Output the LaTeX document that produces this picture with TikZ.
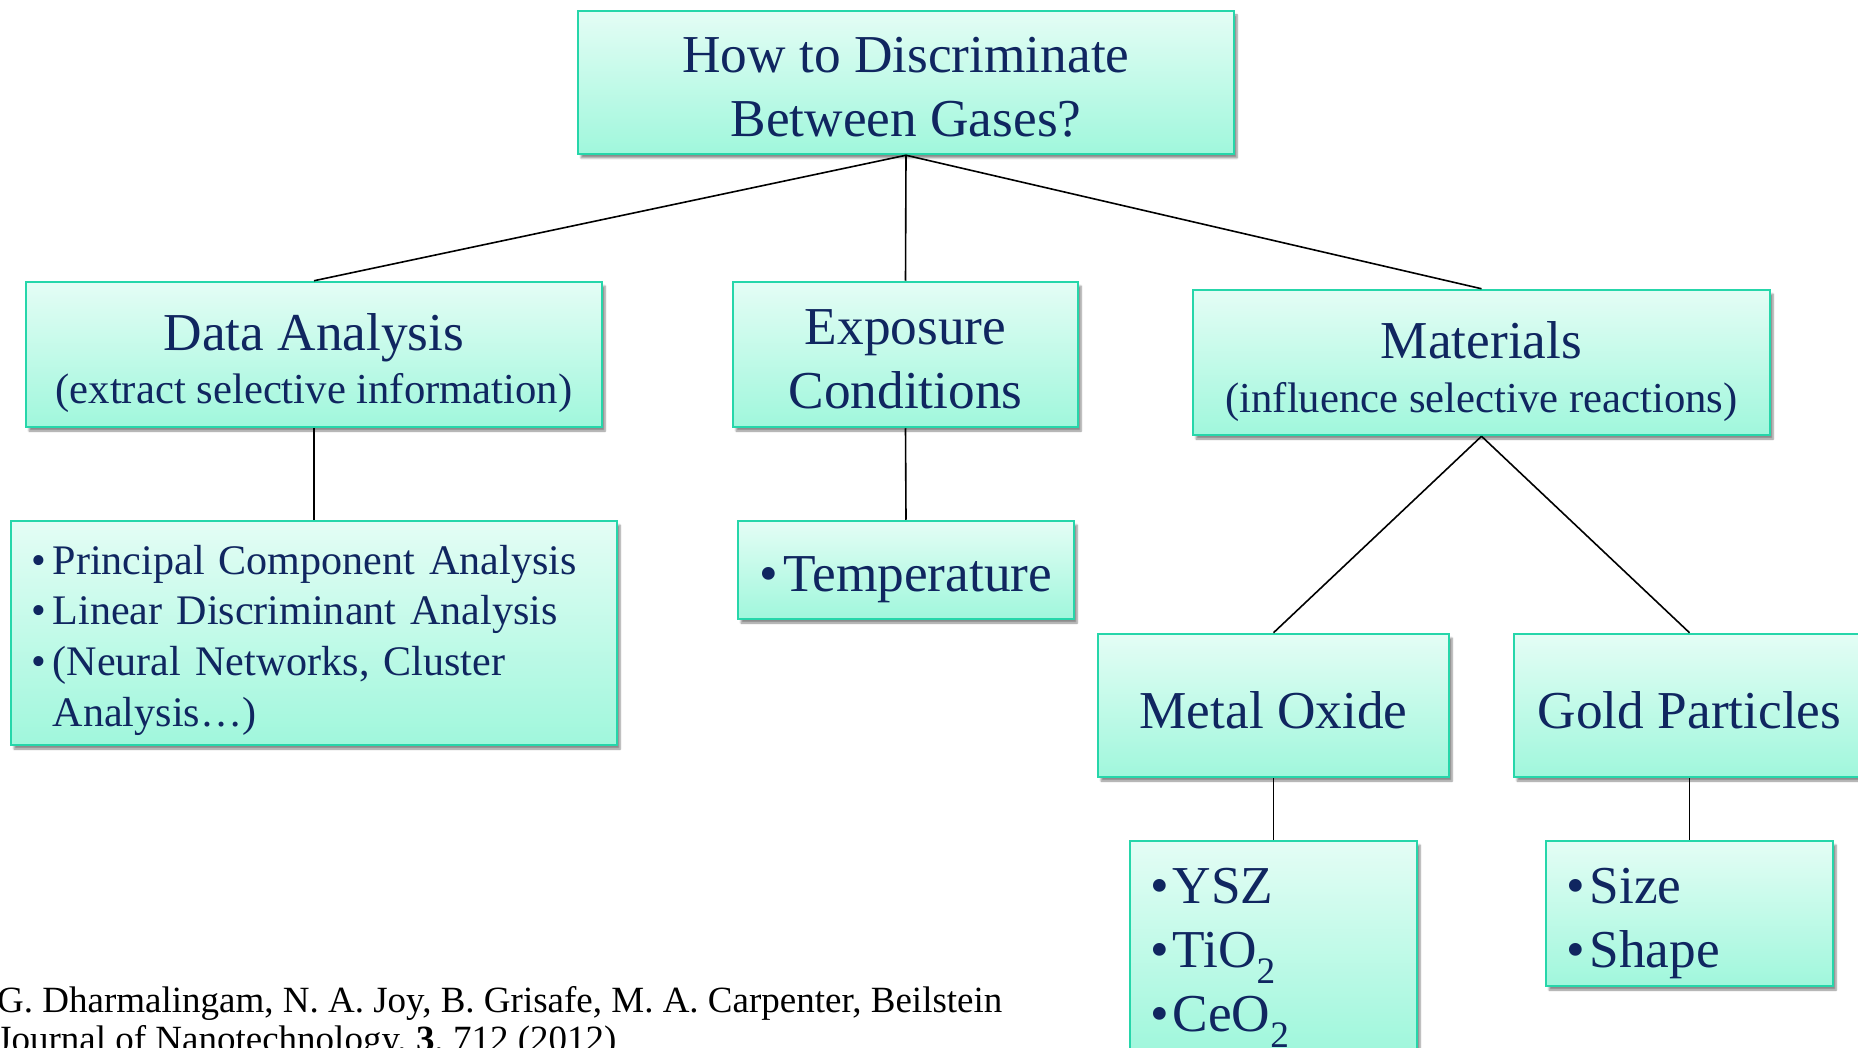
\documentclass[tikz,border=0pt]{standalone}
\usepackage{fontspec}
\setmainfont{Liberation Serif}
\usetikzlibrary{shadows.blur}
\definecolor{navy}{RGB}{16,38,96}
\definecolor{boxline}{RGB}{38,214,170}
\definecolor{boxtop}{RGB}{228,253,245}
\definecolor{boxbot}{RGB}{160,247,220}
\newcommand{\fbig}{\fontsize{53.3}{64}\selectfont}
\newcommand{\fmed}{\fontsize{42.7}{50.6}\selectfont}
\newcommand{\flist}{\fontsize{42.1}{50.6}\selectfont}
\newcommand{\fcite}{\fontsize{37}{42.5}\selectfont}
\newcommand{\lowered}[2]{\raisebox{-#1}[\height][\depth]{#2}}
\begin{document}
\begin{tikzpicture}[x=1pt,y=-1pt,
  box/.style={draw=boxline, line width=2.5pt, top color=boxtop, bottom color=boxbot,
    text=navy, inner sep=0pt, align=center,
    blur shadow={shadow xshift=3pt, shadow yshift=-4pt, shadow blur steps=6, shadow opacity=45}},
  link/.style={draw=black, line width=1.6pt},
  citetext/.style={anchor=base west, inner sep=0pt, font=\fcite, text=black}]
\useasboundingbox (0,0) rectangle (1858,1048);
\clip (0,0) rectangle (1858,1048);

\node[box, minimum width=656pt, minimum height=143pt, font=\fbig] (top) at (906,82.5)
  {\lowered{9pt}{\begin{tabular}{@{}c@{}}How to Discriminate\\Between Gases?\end{tabular}}};

\node[box, minimum width=576pt, minimum height=145pt, font=\fbig] (data) at (314,354.5)
  {\lowered{10pt}{\begin{tabular}{@{}c@{}}Data Analysis\\[-11pt]\fmed (extract selective information)\end{tabular}}};
\node[box, minimum width=345pt, minimum height=145pt, font=\fbig] (expo) at (905.5,354.5)
  {\lowered{9pt}{\begin{tabular}{@{}c@{}}Exposure\\Conditions\end{tabular}}};
\node[box, minimum width=577pt, minimum height=145pt, font=\fbig] (mat) at (1481.5,362.5)
  {\lowered{10pt}{\begin{tabular}{@{}c@{}}Materials\\[-10pt]\fmed (influence selective reactions)\end{tabular}}};

\node[box, minimum width=606pt, minimum height=224pt, text width=566pt, inner xsep=20pt,
  align=left, font=\flist] (dlist) at (314,633)
  {\lowered{7pt}{\begin{tabular}{@{}l@{\hspace{7pt}}l@{}}
   •&Principal Component Analysis\\
   •&Linear Discriminant Analysis\\
   •&(Neural Networks, Cluster\\
    &Analysis…)
   \end{tabular}}};
\node[box, minimum width=336pt, minimum height=98pt, font=\fbig] (temp) at (906,570)
  {\lowered{10pt}{•\hspace{5pt}Temperature}};

\node[box, minimum width=351pt, minimum height=143pt, font=\fbig] (metal) at (1273.5,705.5)
  {\lowered{5pt}{Metal Oxide}};
\node[box, minimum width=351pt, minimum height=143pt, font=\fbig] (gold) at (1689.5,705.5)
  {\lowered{5pt}{Gold Particles}};

\node[box, minimum width=287pt, minimum height=209pt, text width=247pt, inner xsep=20pt,
  align=left, font=\fbig] (ysz) at (1273.5,945.5)
  {\lowered{9pt}{\begin{tabular}{@{}l@{\hspace{4pt}}l@{}}
   •&YSZ\\
   •&TiO\textsubscript{2}\\
   •&CeO\textsubscript{2}
   \end{tabular}}};
\node[box, minimum width=287pt, minimum height=145pt, text width=247pt, inner xsep=20pt,
  align=left, font=\fbig] (size) at (1689.5,913.5)
  {\lowered{9pt}{\begin{tabular}{@{}l@{\hspace{5pt}}l@{}}
   •&Size\\
   •&Shape
   \end{tabular}}};

\draw[link] (top.south) -- (data.north);
\draw[link] (top.south) -- (expo.north);
\draw[link] (top.south) -- (mat.north);
\draw[link] (data.south) -- (dlist.north);
\draw[link] (expo.south) -- (temp.north);
\draw[link] (mat.south) -- (metal.north);
\draw[link] (mat.south) -- (gold.north);
\draw[link] (metal.south) -- (ysz.north);
\draw[link] (gold.south) -- (size.north);

\node[citetext] (cite1) at (-3,1012)
  {G. Dharmalingam, N. A. Joy, B. Grisafe, M. A. Carpenter, Beilstein};
\node[citetext] (cite2) at (-3,1051)
  {Journal of Nanotechnology, \textbf{3}, 712 (2012)};
\end{tikzpicture}
\end{document}
